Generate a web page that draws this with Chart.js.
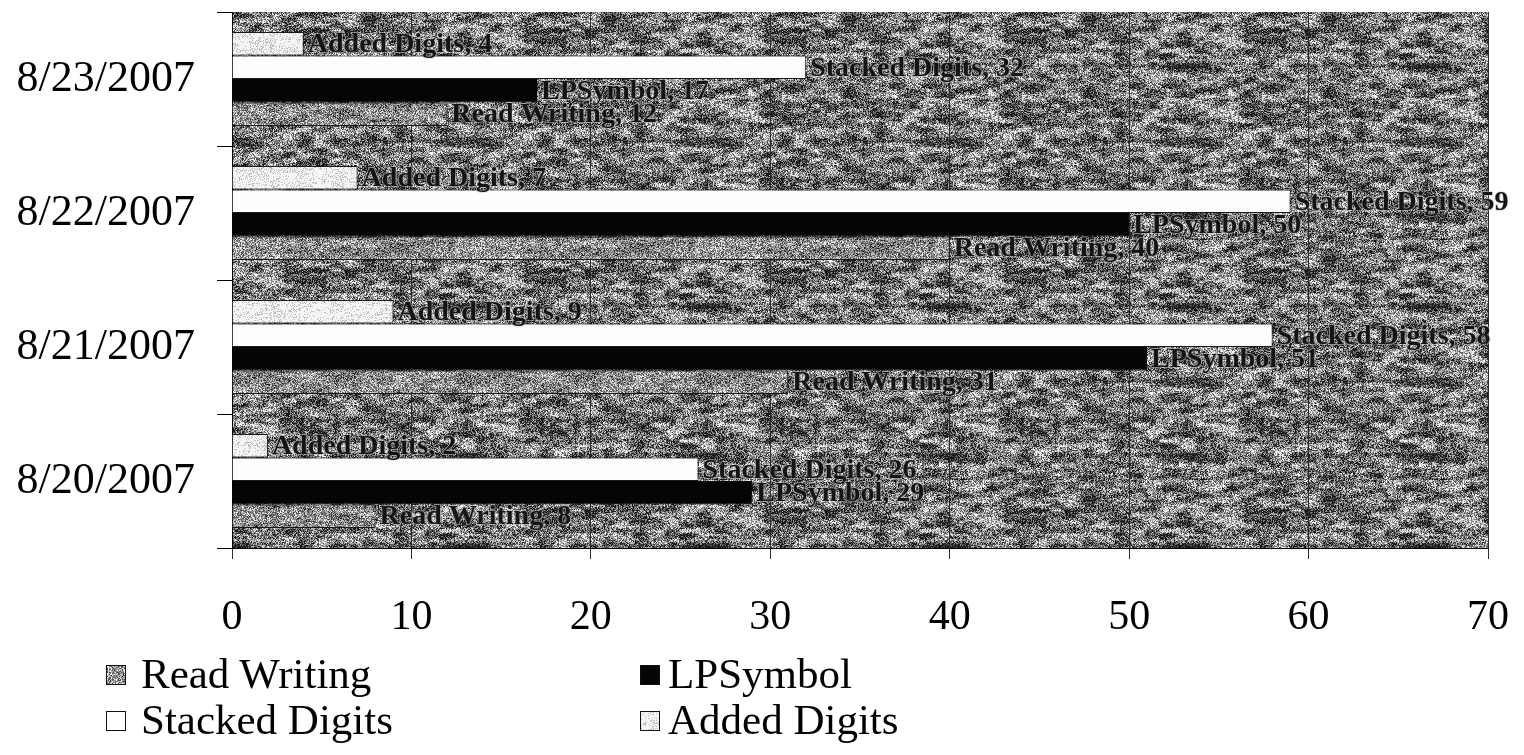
<!DOCTYPE html>
<html>
<head>
<meta charset="utf-8">
<script src="https://cdn.jsdelivr.net/npm/chart.js@4.4.1/dist/chart.umd.min.js"></script>
<style>
  html, body { margin: 0; padding: 0; background: #fff; }
  #wrap { position: relative; width: 1524px; height: 755px; overflow: hidden; }
  #chart { position: absolute; left: 0; top: 0; }
  .leg { position: absolute; font-family: "Liberation Serif", "Times New Roman", serif; font-size: 43px; color: #000; white-space: nowrap; line-height: 1; }
  .box { position: absolute; width: 20px; height: 20px; box-sizing: border-box; border: 1px solid #111; }
</style>
</head>
<body>
<div id="wrap">
  <canvas id="chart" width="1524" height="755"></canvas>
</div>
<script>
// Session dates, listed top to bottom as they appear on the axis
const categories = ['8/23/2007', '8/22/2007', '8/21/2007', '8/20/2007'];

// Counts per session
const addedDigits   = [4, 7, 9, 2];
const stackedDigits = [32, 59, 58, 26];
const lpSymbol      = [17, 50, 51, 29];
const readWriting   = [12, 40, 31, 8];

// Value axis
const xMin = 0;
const xMax = 70;
const xStep = 10;

// Legend order
const legendNames = ['Read Writing', 'LPSymbol', 'Stacked Digits', 'Added Digits'];

const SERIF = '"Liberation Serif", "Times New Roman", serif';

// Deterministic pixel hash for the speckled fills
function hash(x, y, s) {
  let h = Math.imul(x, 374761393) + Math.imul(y, 668265263) + Math.imul(s, 144665) | 0;
  h = Math.imul(h ^ (h >>> 13), 1274126177);
  h = h ^ (h >>> 16);
  return (h >>> 0) / 4294967296;
}

// Smooth value noise on a coarse lattice, wrapping every `period` cells
function valueNoise(x, y, s, period) {
  const xi = Math.floor(x), yi = Math.floor(y);
  const fx = x - xi, fy = y - yi;
  const ux = fx * fx * (3 - 2 * fx), uy = fy * fy * (3 - 2 * fy);
  const w = (a) => ((a % period) + period) % period;
  const a = hash(w(xi), w(yi), s), b = hash(w(xi + 1), w(yi), s);
  const c = hash(w(xi), w(yi + 1), s), d = hash(w(xi + 1), w(yi + 1), s);
  return (a + (b - a) * ux) + ((c + (d - c) * ux) - (a + (b - a) * ux)) * uy;
}

// Grainy grey texture tile with horizontally stretched blotches
function makeTexture(size, seed, mean, fine, coarse) {
  const c = document.createElement('canvas');
  c.width = size; c.height = size;
  const g = c.getContext('2d');
  const img = g.createImageData(size, size);
  const cx = 16, cy = 5;
  for (let y = 0; y < size; y++) {
    for (let x = 0; x < size; x++) {
      const n = hash(x, y, seed) - 0.5;
      const m = valueNoise(x / cx, y / cy, seed + 3, size / cx) - 0.5;
      const m2 = valueNoise(x / 6, y / 3, seed + 9, Math.max(1, Math.round(size / 6))) - 0.5;
      const v = mean + fine * 2 * n + coarse * 2 * m + coarse * m2;
      let q;
      if (v > 205) q = 245; else if (v > 160) q = 190; else if (v > 115) q = 135; else if (v > 70) q = 80; else q = 25;
      const i = (y * size + x) * 4;
      img.data[i] = img.data[i + 1] = img.data[i + 2] = q;
      img.data[i + 3] = 255;
    }
  }
  g.putImageData(img, 0, 0);
  return c;
}

const ctx = document.getElementById('chart').getContext('2d');
const plotTile  = makeTexture(240, 7, 118, 85, 65);
const rwTile    = makeTexture(240, 19, 142, 75, 25);
const addedTile = makeTexture(120, 31, 222, 28, 10);
const plotPattern  = ctx.createPattern(plotTile, 'repeat');
const rwPattern    = ctx.createPattern(rwTile, 'repeat');
const addedPattern = ctx.createPattern(addedTile, 'repeat');

// Textured plot background
const plotBackground = {
  id: 'plotBackground',
  beforeDraw(chart) {
    const a = chart.chartArea;
    const c = chart.ctx;
    c.save();
    c.fillStyle = plotPattern;
    c.fillRect(a.left, a.top, a.right - a.left, a.bottom - a.top);
    c.restore();
  }
};

// "Series, value" labels at the end of every bar
const barLabels = {
  id: 'barLabels',
  afterDatasetsDraw(chart) {
    const c = chart.ctx;
    c.save();
    c.font = 'bold 28px ' + SERIF;
    c.textAlign = 'left';
    c.textBaseline = 'middle';
    chart.data.datasets.forEach((ds, di) => {
      const meta = chart.getDatasetMeta(di);
      meta.data.forEach((bar, i) => {
        const text = ds.label + ', ' + ds.data[i];
        const x = bar.x + 4;
        const y = bar.y + 1;
        c.lineWidth = 2;
        c.strokeStyle = 'rgba(200,200,200,0.5)';
        c.strokeText(text, x, y);
        c.fillStyle = '#141414';
        c.fillText(text, x, y);
      });
    });
    c.restore();
  }
};

const chart = new Chart(ctx, {
  type: 'bar',
  data: {
    labels: categories,
    datasets: [
      { label: 'Added Digits',   data: addedDigits,   backgroundColor: addedPattern, borderColor: '#1a1a1a', borderWidth: 1 },
      { label: 'Stacked Digits', data: stackedDigits, backgroundColor: '#fdfdfd',    borderColor: '#1a1a1a', borderWidth: 1 },
      { label: 'LPSymbol',       data: lpSymbol,      backgroundColor: '#050505',    borderColor: '#050505', borderWidth: 1 },
      { label: 'Read Writing',   data: readWriting,   backgroundColor: rwPattern,    borderColor: '#1a1a1a', borderWidth: 1 }
    ]
  },
  options: {
    indexAxis: 'y',
    responsive: false,
    animation: false,
    devicePixelRatio: 1,
    layout: { padding: { left: 0, top: 12, right: 36, bottom: 0 } },
    datasets: { bar: { categoryPercentage: 0.7, barPercentage: 1.0 } },
    plugins: {
      legend: { display: false },
      tooltip: { enabled: false },
      title: { display: false }
    },
    scales: {
      x: {
        type: 'linear',
        min: xMin,
        max: xMax,
        ticks: { stepSize: xStep, color: '#000', font: { family: SERIF, size: 42 }, padding: 34 },
        grid: { color: '#2b2b2b', lineWidth: 1, tickLength: 11, drawOnChartArea: true },
        border: { display: true, color: '#000', width: 1 },
        afterFit(s) { s.height = 207; s.paddingLeft = 0; s.paddingRight = 0; }
      },
      y: {
        type: 'category',
        ticks: { color: '#000', font: { family: SERIF, size: 44 }, padding: 22 },
        grid: { offset: true, drawOnChartArea: false, color: '#000', tickLength: 15 },
        border: { display: true, color: '#000', width: 1 },
        afterFit(s) { s.width = 232; s.paddingTop = 0; s.paddingBottom = 0; }
      }
    }
  },
  plugins: [plotBackground, barLabels]
});

// Legend in two columns below the axis
const fills = {
  'Read Writing': rwTile.toDataURL(),
  'Added Digits': addedTile.toDataURL()
};
const solid = { 'LPSymbol': '#050505', 'Stacked Digits': '#ffffff' };
const wrap = document.getElementById('wrap');
const colX = [[106, 141], [640, 668]];
const rowY = [652, 698];
legendNames.forEach((name, k) => {
  const col = k % 2, row = Math.floor(k / 2);
  const box = document.createElement('div');
  box.className = 'box';
  box.style.left = colX[col][0] + 'px';
  box.style.top = (rowY[row] + 13) + 'px';
  if (fills[name]) { box.style.backgroundImage = 'url(' + fills[name] + ')'; }
  else { box.style.background = solid[name]; }
  wrap.appendChild(box);
  const t = document.createElement('div');
  t.className = 'leg';
  t.style.left = colX[col][1] + 'px';
  t.style.top = rowY[row] + 'px';
  t.textContent = name;
  wrap.appendChild(t);
});
</script>
</body>
</html>
